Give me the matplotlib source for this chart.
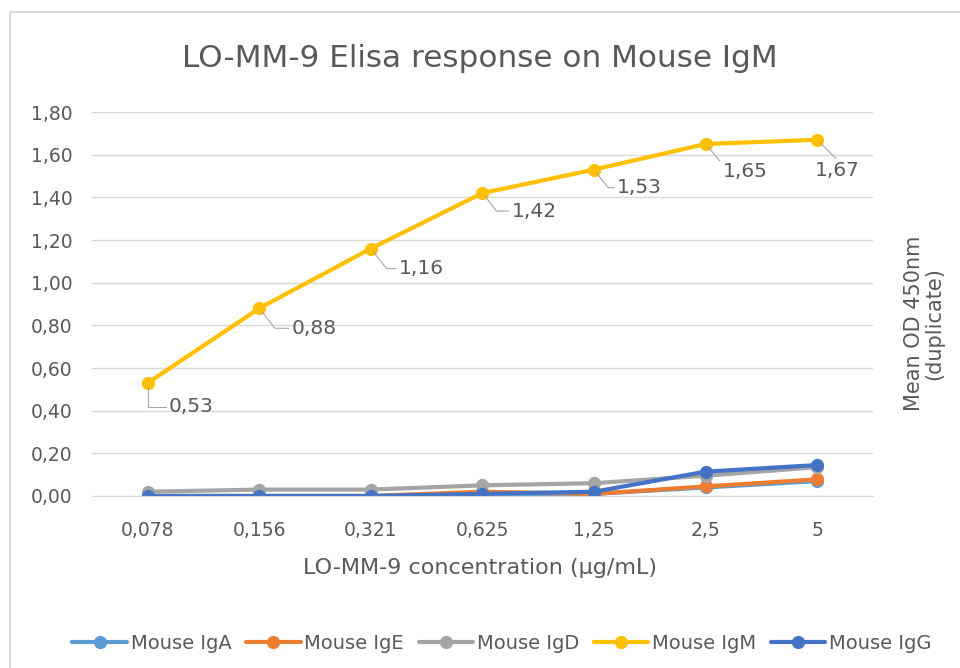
import matplotlib
matplotlib.use('Agg')
import matplotlib.pyplot as plt
from matplotlib.patches import Rectangle

plt.rcParams['font.family'] = ['DejaVu Sans']

concentrations = ['0,078', '0,156', '0,321', '0,625', '1,25', '2,5', '5']
series_names = ['Mouse IgA', 'Mouse IgE', 'Mouse IgD', 'Mouse IgM', 'Mouse IgG']
iga = [0.00, 0.00, 0.00, 0.01, 0.01, 0.04, 0.07]
ige = [0.00, 0.00, 0.00, 0.02, 0.01, 0.045, 0.078]
igd = [0.02, 0.03, 0.03, 0.05, 0.06, 0.095, 0.135]
igm = [0.53, 0.88, 1.16, 1.42, 1.53, 1.65, 1.67]
igg = [0.00, 0.00, 0.00, 0.01, 0.02, 0.114, 0.145]
colors = ['#5B9BD5', '#ED7D31', '#A5A5A5', '#FFC000', '#4472C4']

# where the IgM labels sit relative to their points (pixels) and leader angle
label_dx = [21, 32, 28, 29, 23, 17, -2]
label_dy = [-24, -20, -20, -18, -18, -27, -31]
leader_angle = [90, -52, -52, -52, -52, -50, -45]

text_col = '#595959'
grid_col = '#d9d9d9'

fig = plt.figure(figsize=(9.6, 6.68), dpi=100)
ax = fig.add_axes([0.0958, 0.2575, 0.8135, 0.5748])

x = list(range(len(concentrations)))
for vals, name, col in zip([iga, ige, igd, igm, igg], series_names, colors):
    ax.plot(x, vals, color=col, lw=3, marker='o', markersize=8.5, label=name,
            solid_capstyle='round')

for i, v in enumerate(igm):
    ax.annotate(f'{v:.2f}'.replace('.', ','), xy=(i, v),
                xytext=(label_dx[i], label_dy[i]), textcoords='offset pixels',
                ha='left', va='center', fontsize=14.5, color=text_col,
                arrowprops=dict(arrowstyle='-', color='#a6a6a6', lw=0.8,
                                shrinkA=0, shrinkB=3, relpos=(0, 0.5),
                                connectionstyle=f'angle,angleA=0,angleB={leader_angle[i]},rad=0'))

ax.set_xlim(-0.5, len(concentrations) - 0.5)
ax.set_ylim(0, 1.8)
ax.set_yticks([i * 0.2 for i in range(10)])
ax.set_yticklabels([f'{i * 0.2:.2f}'.replace('.', ',') for i in range(10)])
ax.set_xticks(x)
ax.set_xticklabels(concentrations)
ax.tick_params(axis='both', length=0, labelsize=13.5, labelcolor=text_col)
ax.tick_params(axis='y', pad=14)
ax.tick_params(axis='x', pad=18)
ax.grid(axis='y', color=grid_col, lw=1)
ax.set_axisbelow(True)
for s in ['top', 'right', 'left']:
    ax.spines[s].set_visible(False)
ax.spines['bottom'].set_color(grid_col)

fig.text(0.5, 0.913, 'LO-MM-9 Elisa response on Mouse IgM', ha='center', va='center',
         fontsize=22.4, color=text_col)
fig.text(0.5, 0.150, 'LO-MM-9 concentration (µg/mL)', ha='center', va='center',
         fontsize=16, color=text_col)
fig.text(0.963, 0.516, 'Mean OD 450nm\n(duplicate)', ha='center', va='center',
         rotation=90, multialignment='center', fontsize=15, color=text_col,
         linespacing=1.0)

fig.legend(loc='center', bbox_to_anchor=(0.523, 0.037), ncol=5, frameon=False,
           fontsize=14, handlelength=2.8, handletextpad=0.2, columnspacing=0.75,
           labelcolor=text_col)

fig.patches.append(Rectangle((10 / 960, -0.1), 1.0, 1 - 12 / 668 + 0.1,
                             transform=fig.transFigure, fill=False,
                             edgecolor='#d9d9d9', lw=1.5))

fig.savefig('out.png', dpi=100)
